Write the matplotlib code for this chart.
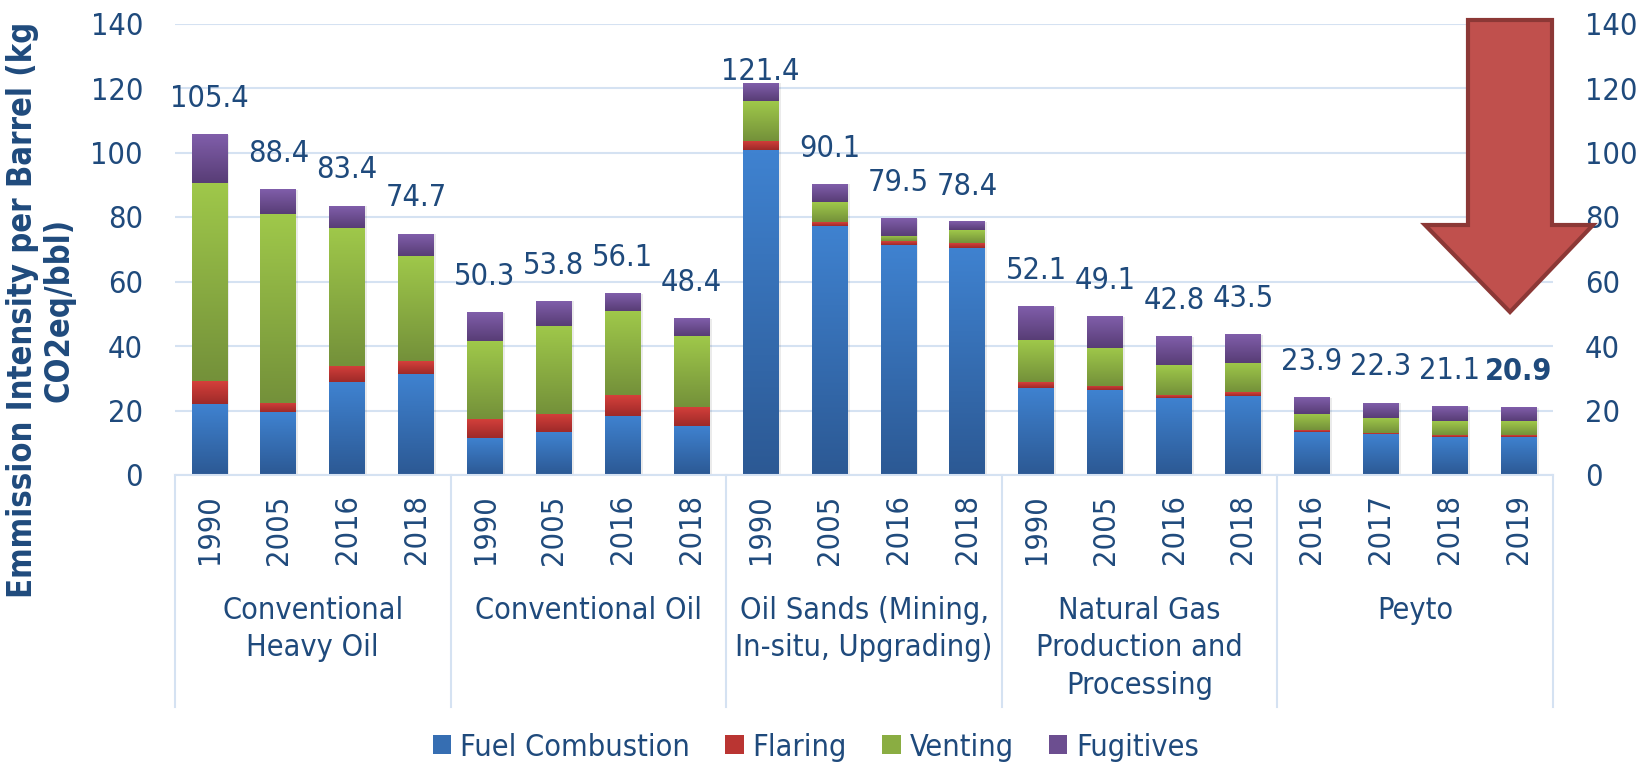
import numpy as np
import matplotlib
matplotlib.use('Agg')
import matplotlib.pyplot as plt
from matplotlib.patches import Patch, Polygon
from matplotlib.transforms import blended_transform_factory

###############################################################################
# Data
###############################################################################

groups = ['Conventional\nHeavy Oil', 'Conventional Oil',
          'Oil Sands (Mining,\nIn-situ, Upgrading)',
          'Natural Gas\nProduction and\nProcessing', 'Peyto']
years = ['1990', '2005', '2016', '2018',
         '1990', '2005', '2016', '2018',
         '1990', '2005', '2016', '2018',
         '1990', '2005', '2016', '2018',
         '2016', '2017', '2018', '2019']

fuel = [22.0, 19.5, 28.8, 31.3, 11.5, 13.3, 18.3, 15.2,
        100.7, 77.3, 71.3, 70.4, 27.0, 26.3, 23.9, 24.5,
        13.4, 12.7, 11.8, 11.8]
flaring = [7.1, 2.8, 5.0, 4.0, 5.9, 5.6, 6.5, 5.9,
           2.8, 1.1, 1.2, 1.5, 1.8, 1.3, 0.9, 1.2,
           0.5, 0.3, 0.6, 0.6]
venting = [61.4, 58.6, 42.8, 32.6, 24.1, 27.3, 26.0, 22.0,
           12.4, 6.2, 1.6, 4.0, 13.0, 11.8, 9.3, 9.0,
           5.0, 4.7, 4.3, 4.3]
fugitives = [14.9, 7.5, 6.8, 6.8, 8.8, 7.6, 5.3, 5.3,
             5.5, 5.5, 5.4, 2.5, 10.3, 9.7, 8.7, 8.8,
             5.0, 4.6, 4.4, 4.2]

series = ['Fuel Combustion', 'Flaring', 'Venting', 'Fugitives']

###############################################################################
# Style
###############################################################################

plt.rcParams['font.family'] = 'DejaVu Sans'
plt.rcParams['font.stretch'] = 'condensed'
txt = '#1F4A7C'
grid_col = '#D5E2F2'
# (top colour, bottom colour) for the gradient fill of each segment
grads = [('#3F82D0', '#2C5994'),
         ('#D5403B', '#9E2A29'),
         ('#9FC84A', '#74913A'),
         ('#805EAA', '#583D76')]
fs = 22

W, H = 1646, 763
fig = plt.figure(figsize=(W / 100, H / 100), dpi=100)
ax = fig.add_axes([175 / W, 1 - 475 / H, (1553 - 175) / W, (475 - 23.5) / H])

x = np.arange(len(years))
data = np.array([fuel, flaring, venting, fugitives])
bottom = np.zeros(len(years))
mids = []

for i, vals in enumerate(data):
    c_top, c_bot = grads[i]
    ctop = np.array(matplotlib.colors.to_rgb(c_top))
    cbot = np.array(matplotlib.colors.to_rgb(c_bot))
    mids.append(tuple((ctop + cbot) / 2))
    bars = ax.bar(x, vals, 0.52, bottom=bottom, color=c_bot, zorder=2)
    t = np.linspace(0, 1, 64)[:, None]
    img = (ctop * (1 - t) + cbot * t)[:, None, :]
    for p in bars:
        if p.get_height() <= 0:
            continue
        x0, y0 = p.get_x(), p.get_y()
        ax.imshow(img, extent=(x0, x0 + p.get_width(), y0, y0 + p.get_height()),
                  aspect='auto', origin='upper', zorder=2.5, interpolation='bilinear')
    bottom += vals

# soft shadow to the right of each stack
for xi, tot in zip(x, bottom):
    ax.bar(xi + 0.03, tot, 0.52, color='#000000', alpha=0.08, zorder=1.5,
           linewidth=0)

# total labels
totals = data.sum(axis=0)
for xi, tot in zip(x, totals):
    ypos = min(tot + 11.2, 125)
    bold = 'bold' if xi == len(x) - 1 else 'normal'
    ax.text(xi, ypos, '%.1f' % tot, ha='center', va='center',
            fontsize=fs, color=txt, fontweight=bold, zorder=4)

ax.set_xlim(-0.5, len(years) - 0.5)
ax.set_ylim(0, 140)
ax.set_yticks(np.arange(0, 141, 20))
ax.set_xticks([])
ax.grid(axis='y', color=grid_col, linewidth=1.5, zorder=0)
ax.set_axisbelow(True)
for s in ['left', 'right', 'top']:
    ax.spines[s].set_visible(False)
ax.spines['bottom'].set_color(grid_col)
ax.spines['bottom'].set_linewidth(1.5)
ax.tick_params(axis='y', length=0, pad=23, labelsize=fs, labelcolor=txt)

ax2 = ax.twinx()
ax2.set_ylim(0, 140)
ax2.set_yticks(np.arange(0, 141, 20))
for s in ax2.spines.values():
    s.set_visible(False)
ax2.tick_params(axis='y', length=0, pad=23, labelsize=fs, labelcolor=txt)

# hierarchical category axis
trans = blended_transform_factory(ax.transData, ax.transAxes)
for xi, yr in zip(x, years):
    ax.text(xi, -0.043, yr, rotation=90, ha='center', va='top',
            fontsize=fs, color=txt, transform=trans)
n_per = 4
for gi, g in enumerate(groups):
    ax.text(gi * n_per + (n_per - 1) / 2, -0.268, g, ha='center', va='top',
            fontsize=fs, color=txt, transform=trans, linespacing=1.36)
for b in np.arange(len(groups) + 1) * n_per - 0.5:
    ax.plot([b, b], [0, -0.514], color=grid_col, linewidth=1.5,
            transform=trans, clip_on=False)

fig.text(41 / W, 1 - 310 / H, 'Emmission Intensity per Barrel (kg\nCO2eq/bbl)',
         rotation=90, ha='center', va='center', multialignment='center',
         fontsize=23.5, fontweight='bold', color=txt, linespacing=1.15)

# legend
handles = [Patch(facecolor=mids[i], edgecolor='none') for i in range(4)]
leg = fig.legend(handles, series, loc='center', bbox_to_anchor=(816 / W, 1 - 747 / H),
                 ncol=4, frameon=False, fontsize=fs, handlelength=0.6,
                 handleheight=0.6, handletextpad=0.3, columnspacing=1.15,
                 borderaxespad=0, borderpad=0)
for t_ in leg.get_texts():
    t_.set_color(txt)

# big downward arrow
arrow_px = [(1468, 20), (1552, 20), (1552, 225), (1593, 225),
            (1510, 312), (1425, 225), (1468, 225)]
arrow = Polygon([(px / W, 1 - py / H) for px, py in arrow_px], closed=True,
                transform=fig.transFigure, facecolor='#C0504D',
                edgecolor='#8C3836', linewidth=3, joinstyle='miter', zorder=10)
fig.patches.append(arrow)

fig.savefig('out.png', dpi=100)
